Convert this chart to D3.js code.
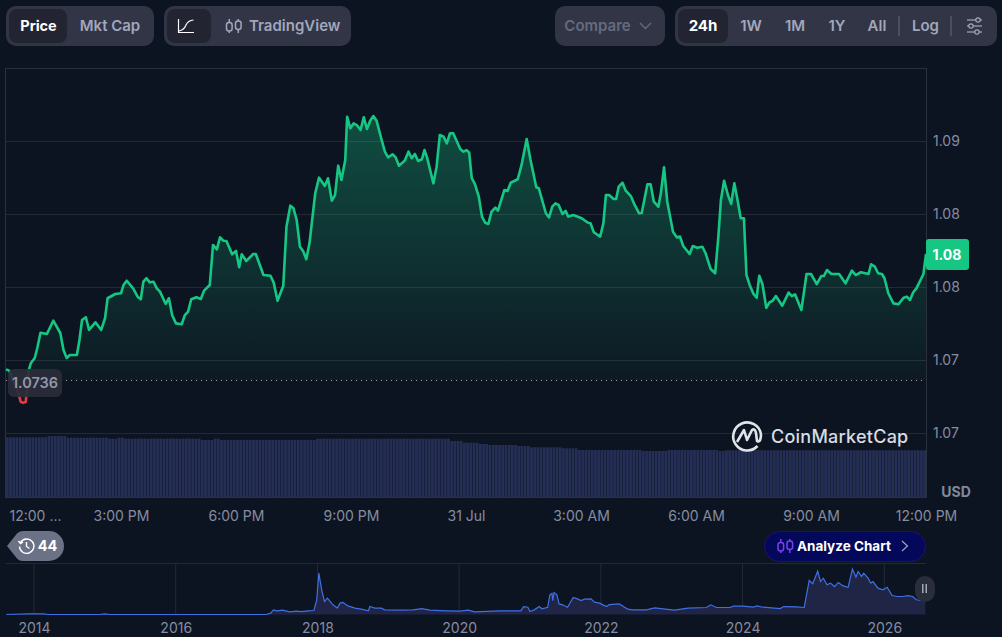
<!DOCTYPE html>
<html>
<head>
<meta charset="utf-8">
<style>
  html, body { margin: 0; padding: 0; background: #0d1421; overflow: hidden; }
  svg { display: block; font-family: Inter, "Noto Sans", sans-serif; }
</style>
<script src="https://cdn.jsdelivr.net/npm/d3@7"></script>
</head>
<body>
<script>
// Price, 24h view: minutes since 12:00 PM and USD price
const priceMinutes = [0,5,11,19,23,27,31,35,39,45,49,54,64,74,85,90,95,100,111,115,119,125,130,140,149,155,159,171,180,184,189,199,206,211,215,220,225,231,236,241,250,255,260,266,275,280,285,290,298,305,310,319,324,330,335,340,345,354,360,365,369,376,387,391,403,414,419,425,434,439,445,450,455,460,465,470,475,484,490,499,504,510,515,520,525,531,534,539,544,550,555,560,565,570,575,580,588,593,598,605,610,615,624,630,635,640,645,651,655,659,669,674,679,685,690,695,700,711,716,721,725,729,734,740,745,750,755,760,766,770,780,785,790,801,807,815,821,830,834,845,850,855,860,865,871,876,880,888,901,911,915,920,930,935,939,944,951,955,959,965,970,978,984,991,995,1004,1009,1014,1021,1025,1030,1035,1044,1050,1055,1060,1070,1075,1082,1090,1095,1103,1110,1115,1119,1124,1130,1135,1140,1145,1150,1155,1159,1164,1170,1175,1179,1184,1190,1195,1200,1205,1215,1225,1230,1235,1245,1253,1260,1269,1276,1280,1285,1292,1304,1314,1324,1330,1338,1350,1354,1360,1365,1371,1375,1381,1389,1397,1405,1410,1415,1420,1425,1436,1440];
const priceValues = [1.07436,1.07427,1.07363,1.07281,1.07214,1.07206,1.07214,1.0742,1.0748,1.07514,1.07582,1.07687,1.07678,1.07769,1.07685,1.07569,1.07514,1.07534,1.07534,1.07637,1.07774,1.07793,1.07706,1.07758,1.07706,1.07786,1.07923,1.07952,1.07957,1.08014,1.08043,1.07991,1.07934,1.07916,1.08036,1.0806,1.08032,1.08036,1.07991,1.07968,1.07884,1.07923,1.07808,1.07751,1.07745,1.07808,1.07831,1.07916,1.0793,1.07918,1.07975,1.08014,1.08288,1.08258,1.0834,1.08317,1.08315,1.08224,1.08247,1.08135,1.08224,1.08178,1.08226,1.08226,1.08082,1.08077,1.0803,1.07906,1.08009,1.08413,1.08557,1.08539,1.08459,1.08276,1.08247,1.0819,1.08299,1.08642,1.08749,1.08692,1.08745,1.08591,1.0863,1.08831,1.08733,1.0887,1.09166,1.09087,1.09121,1.09105,1.09075,1.09162,1.09082,1.09139,1.09171,1.09139,1.09007,1.08927,1.08888,1.08909,1.08888,1.08831,1.08865,1.08927,1.08882,1.08911,1.08863,1.08875,1.08938,1.08888,1.0871,1.08824,1.09041,1.09029,1.08984,1.09053,1.09053,1.08945,1.08927,1.08938,1.0892,1.08745,1.08705,1.08619,1.08482,1.0844,1.08432,1.08516,1.08543,1.08523,1.08664,1.08658,1.08714,1.08738,1.08836,1.09014,1.0887,1.08683,1.08676,1.08505,1.08477,1.0855,1.08573,1.08562,1.085,1.08521,1.08482,1.08493,1.08471,1.0844,1.08436,1.08375,1.08345,1.08436,1.0863,1.0863,1.08603,1.08603,1.08687,1.08714,1.0866,1.08623,1.08562,1.08505,1.08507,1.08703,1.08703,1.08584,1.0855,1.08642,1.0882,1.08584,1.08379,1.0834,1.08345,1.08281,1.08226,1.08281,1.08269,1.08276,1.08231,1.08123,1.08094,1.08345,1.08596,1.08728,1.0863,1.08569,1.0871,1.08596,1.08471,1.08471,1.08082,1.08014,1.07952,1.07927,1.08077,1.08021,1.07858,1.07895,1.07906,1.07938,1.07872,1.07961,1.07938,1.0795,1.07843,1.08089,1.08089,1.08019,1.08075,1.08075,1.08116,1.08089,1.08089,1.08025,1.08112,1.08082,1.08101,1.08089,1.08156,1.08139,1.08094,1.08089,1.0806,1.07957,1.07888,1.07882,1.07927,1.07934,1.07911,1.07964,1.07991,1.08089,1.08226];
const openPrice = 1.0736;

// Volume bars, 5 minute steps (relative units)
const volumeValues = [
  59.7,59.7,59.7,59.7,59.7,59.7,59.7,59.7,59.7,59.7,59.7,59.7,59.7,61,61,61,61,61,61,
  59.3,59.3,59.3,59.3,59.3,59.3,59.3,59.3,59.3,59.3,59.3,59.3,59.3,58.3,58.3,58.3,59.3,59.3,
  58.3,58.3,58.3,58.3,58.3,58.3,58.3,58.3,58.3,58.3,58.3,58.3,58.3,58.3,58.3,58.3,58.3,58.3,58.3,58.3,58.3,58.3,58.3,58.3,
  57,57,57,57,58.3,58.3,
  57,57,57,57,57,57,57,57,57,57,57,57,57,57,57,57,57,57,57,57,57,57,57,57,57,57,57,57,57,57,
  58.3,58.3,58.3,58.3,58.3,58.3,58.3,58.3,58.3,58.3,58.3,58.3,58.3,58.3,58.3,58.3,58.3,58.3,58.3,58.3,58.3,
  58.3,58.3,58.3,58.3,58.3,58.3,58.3,58.3,58.3,58.3,58.3,58.3,58.3,58.3,58.3,58.3,58.3,58.3,58.3,58.3,58.3,
  56,56,56,56,54.3,54.3,54.3,54.3,54.3,53,53,53,52,52,52,52,52,52,52,52,52,51,51,51,51,
  49.7,49.7,49.7,49.7,49.7,49.7,49.7,49.7,49.7,49.7,48.7,48.7,48.7,48.7,48.7,
  47,47,47,47,47,47,47,47,47,47,47,47,47,47,47,47,47,47,47,47,46,46,46,46,46,46,46,46,
  47,47,47,47,47,47,47,47,47,47,47,47,47,47,47,47,46,46,
  46.7,46.7,46.7,46.7,46.7,46.7,46.7,46.7,46.7,46.7,46.7,46.7,46.7,46.7,46.7,46.7,46.7,46.7,46.7,46.7,46.7,
  46.7,46.7,46.7,46.7,46.7,46.7,46.7,46.7,46.7,46.7,46.7,46.7,46.7,46.7,46.7,46.7,46.7,46.7,46.7,46.7,46.7,
  46.7,46.7,46.7,46.7,46.7,46.7,46.7,46.7,46.7,46.7,46.7,46.7,46.7,46.7,46.7,46.7,46.7,46.7,46.7,46.7,46.7
];

// All time overview
const overviewYears = [2013.61,2013.92,2014.13,2014.2,2014.93,2015,2015.07,2017.28,2017.34,2017.38,2017.43,2017.51,2017.61,2017.7,2017.77,2017.87,2017.95,2017.99,2018.02,2018.06,2018.1,2018.14,2018.22,2018.28,2018.32,2018.36,2018.43,2018.53,2018.62,2018.72,2018.74,2018.81,2018.9,2018.95,2019.16,2019.35,2019.47,2019.59,2019.82,2020.01,2020.13,2020.22,2020.57,2020.87,2020.91,2020.97,2021,2021.06,2021.13,2021.17,2021.25,2021.28,2021.31,2021.32,2021.34,2021.38,2021.41,2021.46,2021.53,2021.61,2021.67,2021.72,2021.77,2021.86,2021.91,2021.98,2022.08,2022.12,2022.26,2022.38,2022.45,2022.64,2022.76,2022.88,2023.04,2023.23,2023.49,2023.55,2023.63,2023.82,2023.87,2024.01,2024.15,2024.2,2024.29,2024.53,2024.58,2024.76,2024.87,2024.94,2024.99,2025.06,2025.1,2025.14,2025.19,2025.24,2025.3,2025.35,2025.42,2025.49,2025.55,2025.6,2025.63,2025.68,2025.71,2025.77,2025.81,2025.84,2025.91,2025.98,2026.04,2026.11,2026.19,2026.26,2026.33,2026.4,2026.45,2026.52,2026.58];
const overviewValues = [0,0.05,0.05,0,0,0.05,0,0,0.1,0.35,0.28,0.33,0.2,0.25,0.22,0.28,0.3,1.1,3.12,1.86,0.98,1.23,0.73,0.48,0.86,0.91,0.65,0.48,0.4,0.28,0.6,0.48,0.48,0.35,0.33,0.35,0.45,0.33,0.28,0.25,0.33,0.2,0.28,0.28,0.6,0.55,0.23,0.35,0.6,0.43,0.55,1.48,1.6,1.05,1.66,1.48,0.8,0.73,0.55,1.28,1.18,1.05,1.16,1.18,0.93,0.86,0.6,0.75,0.8,0.4,0.35,0.35,0.5,0.43,0.33,0.48,0.53,0.73,0.53,0.53,0.63,0.63,0.55,0.65,0.55,0.45,0.6,0.58,0.53,2.57,2.32,3.27,2.49,2.74,2.24,2.37,2.11,2.42,2.16,2.06,3.42,2.82,3.25,2.87,3.12,2.74,2.37,2.49,1.99,1.86,2.06,1.43,1.36,1.36,1.43,1.36,1.11,1.06,1.06];

// Tick labels
const priceTicks = [1.09, 1.085, 1.08, 1.075, 1.07];
const priceTickLabels = ['1.09', '1.08', '1.08', '1.07', '1.07'];
const timeTicks = [0, 180, 360, 540, 720, 900, 1080, 1260, 1440];
const timeTickLabels = ['12:00 ...', '3:00 PM', '6:00 PM', '9:00 PM', '31 Jul', '3:00 AM', '6:00 AM', '9:00 AM', '12:00 PM'];
const overviewTicks = [2014, 2016, 2018, 2020, 2022, 2024, 2026];

const svg = d3.select('body').append('svg').attr('width', 1002).attr('height', 637);
const defs = svg.append('defs');

// Scales
const x = d3.scaleLinear().domain([0, 1440]).range([6, 926]);
const y = d3.scaleLinear().domain([1.07, 1.09]).range([433, 141]);
const volX = d3.scaleBand().domain(d3.range(volumeValues.length)).range([6, 926]).paddingInner(0.14);
const volY = d3.scaleLinear().domain([0, 61]).range([497, 436]);
const ovX = d3.scaleLinear().domain([2014, 2026]).range([34, 884.3]);
const ovY = d3.scaleLinear().domain([0, 3.775]).range([614.5, 564.5]);
const baseY = y(openPrice);

// Gradients and clips
const green = defs.append('linearGradient').attr('id', 'greenFill')
  .attr('gradientUnits', 'userSpaceOnUse').attr('x1', 0).attr('x2', 0).attr('y1', y(1.0917)).attr('y2', baseY);
green.append('stop').attr('offset', 0).attr('stop-color', '#16c784').attr('stop-opacity', 0.32);
green.append('stop').attr('offset', 1).attr('stop-color', '#16c784').attr('stop-opacity', 0.03);
defs.append('clipPath').attr('id', 'above').append('rect').attr('x', 0).attr('y', 0).attr('width', 1002).attr('height', baseY);
defs.append('clipPath').attr('id', 'below').append('rect').attr('x', 0).attr('y', baseY).attr('width', 1002).attr('height', 120);

// Plot frame and grid
const gridColor = '#222a36';
svg.append('g').selectAll('line').data(priceTicks).enter().append('line')
  .attr('x1', 6).attr('x2', 926).attr('y1', d => y(d) + 0.5).attr('y2', d => y(d) + 0.5)
  .attr('stroke', gridColor);
svg.append('rect').attr('x', 5.5).attr('y', 68.5).attr('width', 921).attr('height', 429)
  .attr('fill', 'none').attr('stroke', '#2a303d');

// Volume
svg.append('g').selectAll('rect').data(volumeValues).enter().append('rect')
  .attr('x', (d, i) => volX(i))
  .attr('y', d => volY(d))
  .attr('width', volX.bandwidth())
  .attr('height', d => 497 - volY(d))
  .attr('fill', '#252f55');

// Price area and line
const points = priceMinutes.map((m, i) => [m, priceValues[i]]);
const area = d3.area().x(d => x(d[0])).y0(baseY).y1(d => y(d[1]));
const line = d3.line().x(d => x(d[0])).y(d => y(d[1]));

svg.append('path').datum(points).attr('d', area).attr('fill', 'url(#greenFill)').attr('clip-path', 'url(#above)');
svg.append('path').datum(points).attr('d', area).attr('fill', '#ea3943').attr('fill-opacity', 0.08).attr('clip-path', 'url(#below)');
svg.append('path').datum(points).attr('d', line).attr('fill', 'none').attr('stroke', '#16c784')
  .attr('stroke-width', 2.6).attr('stroke-linejoin', 'round').attr('clip-path', 'url(#above)');
svg.append('path').datum(points).attr('d', line).attr('fill', 'none').attr('stroke', '#ea3943')
  .attr('stroke-width', 2.6).attr('stroke-linejoin', 'round').attr('clip-path', 'url(#below)');

// Open price marker
svg.append('line').attr('x1', 6).attr('x2', 926).attr('y1', baseY).attr('y2', baseY)
  .attr('stroke', '#a1a7bb').attr('stroke-width', 1).attr('stroke-dasharray', '1 4');
svg.append('rect').attr('x', 8).attr('y', 369).attr('width', 54).attr('height', 28).attr('rx', 6)
  .attr('fill', '#2a2d3a').attr('fill-opacity', 0.92);
label(35, 383, '1.0736', '#9298a9', 14.5, 600, 'middle');

// Axes
const yAxis = d3.axisRight(y).tickValues(priceTicks).tickSize(0).tickPadding(7)
  .tickFormat((d, i) => priceTickLabels[i]);
const yG = svg.append('g').attr('transform', 'translate(926,0)').call(yAxis);
yG.select('.domain').remove();
yG.selectAll('text').attr('fill', '#858ca2').style('font-size', '14px').style('font-family', 'Inter');

const xAxis = d3.axisBottom(x).tickValues(timeTicks).tickSize(0).tickPadding(0)
  .tickFormat((d, i) => timeTickLabels[i]);
const xG = svg.append('g').attr('transform', 'translate(0,511)').call(xAxis);
xG.select('.domain').remove();
xG.selectAll('text').attr('fill', '#858ca2').style('font-size', '14px').style('font-family', 'Inter');
xG.selectAll('text').filter((d, i) => i === 0).attr('dx', 29);

label(956, 492, 'USD', '#808a9d', 14, 700, 'middle');

// Current price tag
svg.append('rect').attr('x', 926).attr('y', 239).attr('width', 43).attr('height', 31).attr('rx', 3).attr('fill', '#16c784');
label(947, 255, '1.08', '#ffffff', 14, 700, 'middle');

// Watermark
svg.append('path')
  .attr('d', 'M757.5 446 A14 14 0 1 1 761 434')
  .attr('fill', 'none').attr('stroke', '#dfe3ea').attr('stroke-width', 2.6);
svg.append('path')
  .attr('d', 'M737 442 L744 430 L747 440 L752 430 Q755 428 756 433 L757 441 Q761 443 761 434')
  .attr('fill', 'none').attr('stroke', '#dfe3ea').attr('stroke-width', 2.6).attr('stroke-linejoin', 'round');
label(771, 437, 'CoinMarketCap', '#d8dce4', 18, 500, 'start').style('letter-spacing', '0.25px');

// Overview chart
svg.append('line').attr('x1', 6).attr('x2', 926).attr('y1', 563.5).attr('y2', 563.5).attr('stroke', gridColor);
svg.append('g').selectAll('line').data(overviewTicks).enter().append('line')
  .attr('x1', d => ovX(d)).attr('x2', d => ovX(d)).attr('y1', 564).attr('y2', 614).attr('stroke', gridColor);

const ovPoints = overviewYears.map((t, i) => [t, overviewValues[i]]);
svg.append('path').datum(ovPoints)
  .attr('d', d3.area().x(d => ovX(d[0])).y0(ovY(0)).y1(d => ovY(d[1])))
  .attr('fill', '#22274a').attr('fill-opacity', 0.9);
svg.append('path').datum(ovPoints)
  .attr('d', d3.line().x(d => ovX(d[0])).y(d => ovY(d[1])))
  .attr('fill', 'none').attr('stroke', '#3f6fe4').attr('stroke-width', 1.2);

const ovAxis = d3.axisBottom(ovX).tickValues(overviewTicks).tickSize(0).tickPadding(0).tickFormat(d3.format('d'));
const ovG = svg.append('g').attr('transform', 'translate(0,623)').call(ovAxis);
ovG.select('.domain').remove();
ovG.selectAll('text').attr('fill', '#858ca2').style('font-size', '14px').style('font-family', 'Inter');

// Overview pause handle
svg.append('rect').attr('x', 915).attr('y', 576).attr('width', 20).attr('height', 26).attr('rx', 10).attr('fill', '#2a2d3a');
svg.append('rect').attr('x', 922).attr('y', 584).attr('width', 1.5).attr('height', 9).attr('fill', '#a1a7bb');
svg.append('rect').attr('x', 925.5).attr('y', 584).attr('width', 1.5).attr('height', 9).attr('fill', '#a1a7bb');

// Top toolbar
panel(6, 6, 148, 40, 10, '#323546');
panel(9, 9, 58, 34, 8, '#222531');
label(38.5, 26, 'Price', '#ffffff', 14.5, 700, 'middle');
label(110, 26, 'Mkt Cap', '#a1a7bb', 15, 600, 'middle');

panel(164, 6, 187, 40, 10, '#323546');
panel(167, 9, 44, 34, 8, '#222531');
svg.append('path').attr('d', 'M178.5 19 V32.5 H194 M179 31 Q184 30 186 25 Q188 20.5 193.5 20')
  .attr('fill', 'none').attr('stroke', '#ffffff').attr('stroke-width', 1.2);
candles(226.5, '#a1a7bb', '#323546', 0);
label(249, 26, 'TradingView', '#a1a7bb', 15, 600, 'start');

panel(555, 6, 110, 40, 10, '#323546');
label(597.5, 26, 'Compare', '#646b80', 15, 600, 'middle');
svg.append('path').attr('d', 'M640 23 L645.5 28.5 L651 23').attr('fill', 'none').attr('stroke', '#646b80').attr('stroke-width', 1.4);

panel(675, 6, 322, 40, 10, '#323546');
panel(678, 9, 50, 34, 8, '#222531');
label(703, 26, '24h', '#ffffff', 15, 700, 'middle');
label(751, 26, '1W', '#a1a7bb', 15, 600, 'middle');
label(795, 26, '1M', '#a1a7bb', 15, 600, 'middle');
label(837, 26, '1Y', '#a1a7bb', 15, 600, 'middle');
label(877, 26, 'All', '#a1a7bb', 15, 600, 'middle');
label(925.5, 26, 'Log', '#a1a7bb', 15, 600, 'middle');
svg.append('rect').attr('x', 898.5).attr('y', 16).attr('width', 1).attr('height', 20).attr('fill', '#646b80');
svg.append('rect').attr('x', 950.5).attr('y', 16).attr('width', 1).attr('height', 20).attr('fill', '#646b80');
// settings icon
[[20, 978], [26, 971], [32, 977]].forEach(d => {
  svg.append('line').attr('x1', 967).attr('x2', 982).attr('y1', d[0]).attr('y2', d[0]).attr('stroke', '#a1a7bb').attr('stroke-width', 1.2);
  svg.append('circle').attr('cx', d[1]).attr('cy', d[0]).attr('r', 2.2).attr('fill', '#323546').attr('stroke', '#a1a7bb').attr('stroke-width', 1.2);
});

// History pill
svg.append('path').attr('d', 'M7 546 L17 533.5 Q19 531 23 531 H49 A15 15 0 0 1 49 561 H23 Q19 561 17 558.5 Z').attr('fill', '#6c7285');
svg.append('path').attr('d', 'M20.5 542.5 A7.2 7.2 0 1 1 19.5 546.5 M18.5 541 L20.5 543.5 L23 542 M26.5 542 V546.5 L29.5 548.5')
  .attr('fill', 'none').attr('stroke', '#ffffff').attr('stroke-width', 1.4);
label(47.5, 546, '44', '#ffffff', 14.5, 700, 'middle');

// Analyze button
svg.append('rect').attr('x', 764.5).attr('y', 531.5).attr('width', 161).attr('height', 30).attr('rx', 15)
  .attr('fill', '#04085a').attr('stroke', '#24106b');
candles(778, '#7a3ff2', '#04085a', 520);
label(797, 546, 'Analyze Chart', '#ffffff', 13.5, 700, 'start');
svg.append('path').attr('d', 'M902 541 L907.5 546 L902 551').attr('fill', 'none').attr('stroke', '#a1a7bb').attr('stroke-width', 1.2);

// Helpers
function panel(px, py, w, h, r, fill) {
  svg.append('rect').attr('x', px).attr('y', py).attr('width', w).attr('height', h).attr('rx', r).attr('fill', fill);
}
function label(px, py, text, fill, size, weight, anchor) {
  return svg.append('text').attr('x', px).attr('y', py).attr('dy', '0.35em')
    .attr('text-anchor', anchor).attr('fill', fill)
    .style('font-size', size + 'px').style('font-weight', weight).text(text);
}
function candles(px, color, back, shift) {
  const g = svg.append('g').attr('fill', 'none').attr('stroke', color).attr('stroke-width', 1.5)
    .attr('transform', 'translate(0,' + shift + ')');
  g.append('path').attr('d', `M${px + 2.8} 19 V33 M${px + 11.8} 19 V33`);
  g.append('rect').attr('x', px).attr('y', 22.5).attr('width', 5.6).attr('height', 8.5).attr('rx', 2.5).attr('fill', back);
  g.append('rect').attr('x', px + 9).attr('y', 21).attr('width', 5.6).attr('height', 8.5).attr('rx', 2.5).attr('fill', back);
}
</script>
</body>
</html>
